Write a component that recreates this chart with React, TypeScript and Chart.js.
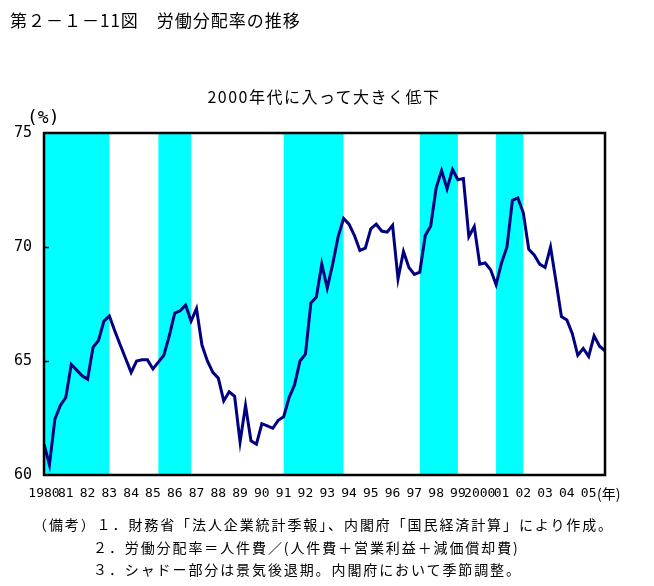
import React, { useEffect, useRef } from 'react';
import { Chart, registerables } from 'chart.js';

Chart.register(...registerables);

// Year tick labels (one per year, at Q1)
const yearLabels = [
  '1980', '81', '82', '83', '84', '85', '86', '87', '88', '89',
  '90', '91', '92', '93', '94', '95', '96', '97', '98', '99',
  '2000', '01', '02', '03', '04', '05',
];
const quarterNames = ['Q1', 'Q2', 'Q3', 'Q4'];

// Labour share (%), quarterly, seasonally adjusted
const values1980s = [
  61.35, 60.45, 62.45, 63.05,
  63.4, 64.85, 64.6, 64.35,
  64.2, 65.6, 65.9, 66.75,
  66.98, 66.32, 65.7, 65.1,
  64.5, 65.0, 65.05, 65.05,
  64.65, 64.95, 65.25, 66.1,
  67.1, 67.2, 67.45, 66.75,
  67.3, 65.7, 65.0, 64.5,
  64.25, 63.25, 63.65, 63.45,
  61.45, 63.05, 61.5, 61.35,
];
const values1990s = [
  62.25, 62.15, 62.05, 62.4,
  62.55, 63.4, 63.95, 65.0,
  65.3, 67.55, 67.8, 69.25,
  68.2, 69.25, 70.45, 71.25,
  71.0, 70.5, 69.85, 69.95,
  70.8, 71.0, 70.7, 70.65,
  70.95, 68.6, 69.8, 69.1,
  68.8, 68.9, 70.5, 70.92,
  72.6, 73.35, 72.55, 73.4,
  72.95, 73.0, 70.45, 70.9,
];
const values2000s = [
  69.25, 69.3, 69.0, 68.35,
  69.3, 70.0, 72.05, 72.15,
  71.5, 69.9, 69.65, 69.25,
  69.1, 70.0, 68.5, 66.95,
  66.8, 66.2, 65.25, 65.55,
  65.2, 66.1, 65.65, 65.45,
];

// Recession periods (quarter index from 1980Q1)
const recessionStart = [0, 21, 44, 69, 83];
const recessionEnd = [12, 27, 55, 76, 88];

const yTicks = [60, 65, 70, 75];

const TITLE = '第２－１－11図　労働分配率の推移';
const SUBTITLE = '2000年代に入って大きく低下';
const NOTE1 = '（備考）１．財務省「法人企業統計季報」、内閣府「国民経済計算」により作成。';
const NOTE2 = '２．労働分配率＝人件費／(人件費＋営業利益＋減価償却費)';
const NOTE3 = '３．シャドー部分は景気後退期。内閣府において季節調整。';

const JP = '"Noto Sans CJK JP", sans-serif';
const MONO = '"DejaVu Sans Mono", monospace';

const decorPlugin = {
  id: 'decor',
  beforeDatasetsDraw(chart: any) {
    const { ctx, chartArea: a, scales } = chart;
    const x = scales.x;
    ctx.save();
    ctx.fillStyle = '#00FFFF';
    recessionStart.forEach((s, k) => {
      const x0 = x.getPixelForValue(s);
      const x1 = x.getPixelForValue(recessionEnd[k]);
      ctx.fillRect(x0, a.top, x1 - x0, a.bottom - a.top);
    });
    ctx.restore();
  },
  afterDatasetsDraw(chart: any) {
    const { ctx, chartArea: a, scales } = chart;
    const y = scales.y;
    ctx.save();
    ctx.strokeStyle = '#000';
    ctx.lineWidth = 2.5;
    ctx.strokeRect(a.left, a.top, a.right - a.left, a.bottom - a.top);
    ctx.lineWidth = 1.5;
    yTicks.slice(1, -1).forEach((v) => {
      const py = Math.round(y.getPixelForValue(v)) + 0.5;
      ctx.beginPath();
      ctx.moveTo(a.left, py);
      ctx.lineTo(a.left + 5, py);
      ctx.stroke();
    });
    ctx.restore();
  },
};

function ChartCanvas() {
  const ref = useRef<HTMLCanvasElement | null>(null);
  useEffect(() => {
    const labels: string[] = [];
    yearLabels.forEach((yl) => quarterNames.forEach((q) => labels.push(yl + q)));
    const values = [...values1980s, ...values1990s, ...values2000s];
    const chart = new Chart(ref.current as HTMLCanvasElement, {
      type: 'line',
      data: {
        labels: labels.slice(0, values.length),
        datasets: [
          {
            data: values,
            borderColor: '#000080',
            borderWidth: 3,
            pointRadius: 0,
            tension: 0,
            fill: false,
          },
        ],
      },
      options: {
        responsive: false,
        animation: false,
        events: [],
        layout: { padding: { left: 0, top: 133, right: 49, bottom: 81 } },
        plugins: { legend: { display: false }, tooltip: { enabled: false }, title: { display: false } },
        scales: {
          x: {
            type: 'category',
            offset: false,
            grid: { display: false, drawTicks: false },
            border: { display: false },
            ticks: {
              autoSkip: false,
              maxRotation: 0,
              minRotation: 0,
              padding: 11,
              color: '#000',
              font: { family: MONO, size: 13 },
              callback: (_v: any, i: number) => (i % 4 === 0 ? yearLabels[i / 4] : ''),
            },
            afterFit: (s: any) => {
              s.height = 30;
            },
          },
          y: {
            min: 60,
            max: 75,
            grid: { display: false, drawTicks: false },
            border: { display: false },
            afterBuildTicks: (s: any) => {
              s.ticks = yTicks.map((v) => ({ value: v }));
            },
            ticks: {
              padding: 12,
              color: '#000',
              font: { family: MONO, size: 15 },
            },
            afterFit: (s: any) => {
              s.width = 44;
            },
          },
        },
      },
      plugins: [decorPlugin],
    });
    return () => chart.destroy();
  }, []);
  return (
    <canvas
      ref={ref}
      width={654}
      height={586}
      style={{ position: 'absolute', left: 0, top: 0, width: 654, height: 586 }}
    />
  );
}

const txt = (extra: React.CSSProperties): React.CSSProperties => ({
  position: 'absolute',
  whiteSpace: 'nowrap',
  lineHeight: 1,
  color: '#000',
  fontFamily: JP,
  ...extra,
});

export default function App() {
  return (
    <div style={{ position: 'fixed', left: 0, top: 0, width: 654, height: 586, background: '#fff', overflow: 'hidden' }}>
      <ChartCanvas />
      <div style={txt({ left: 10, top: 11, fontSize: 17, letterSpacing: 1 })}>{TITLE}</div>
      <div style={txt({ left: 324, top: 88, fontSize: 16, transform: 'translateX(-50%)', letterSpacing: 1.5 })}>{SUBTITLE}</div>
      <div style={txt({ left: 27, top: 108, fontSize: 18, fontFamily: MONO })}>(%)</div>
      <div style={txt({ left: 597, top: 486, fontSize: 14 })}>(年)</div>
      <div style={txt({ left: 33, top: 517, fontSize: 14, letterSpacing: 1.9 })}>{NOTE1}</div>
      <div style={txt({ left: 93, top: 540, fontSize: 14, letterSpacing: 1.9 })}>{NOTE2}</div>
      <div style={txt({ left: 93, top: 562, fontSize: 14, letterSpacing: 1.9 })}>{NOTE3}</div>
    </div>
  );
}
